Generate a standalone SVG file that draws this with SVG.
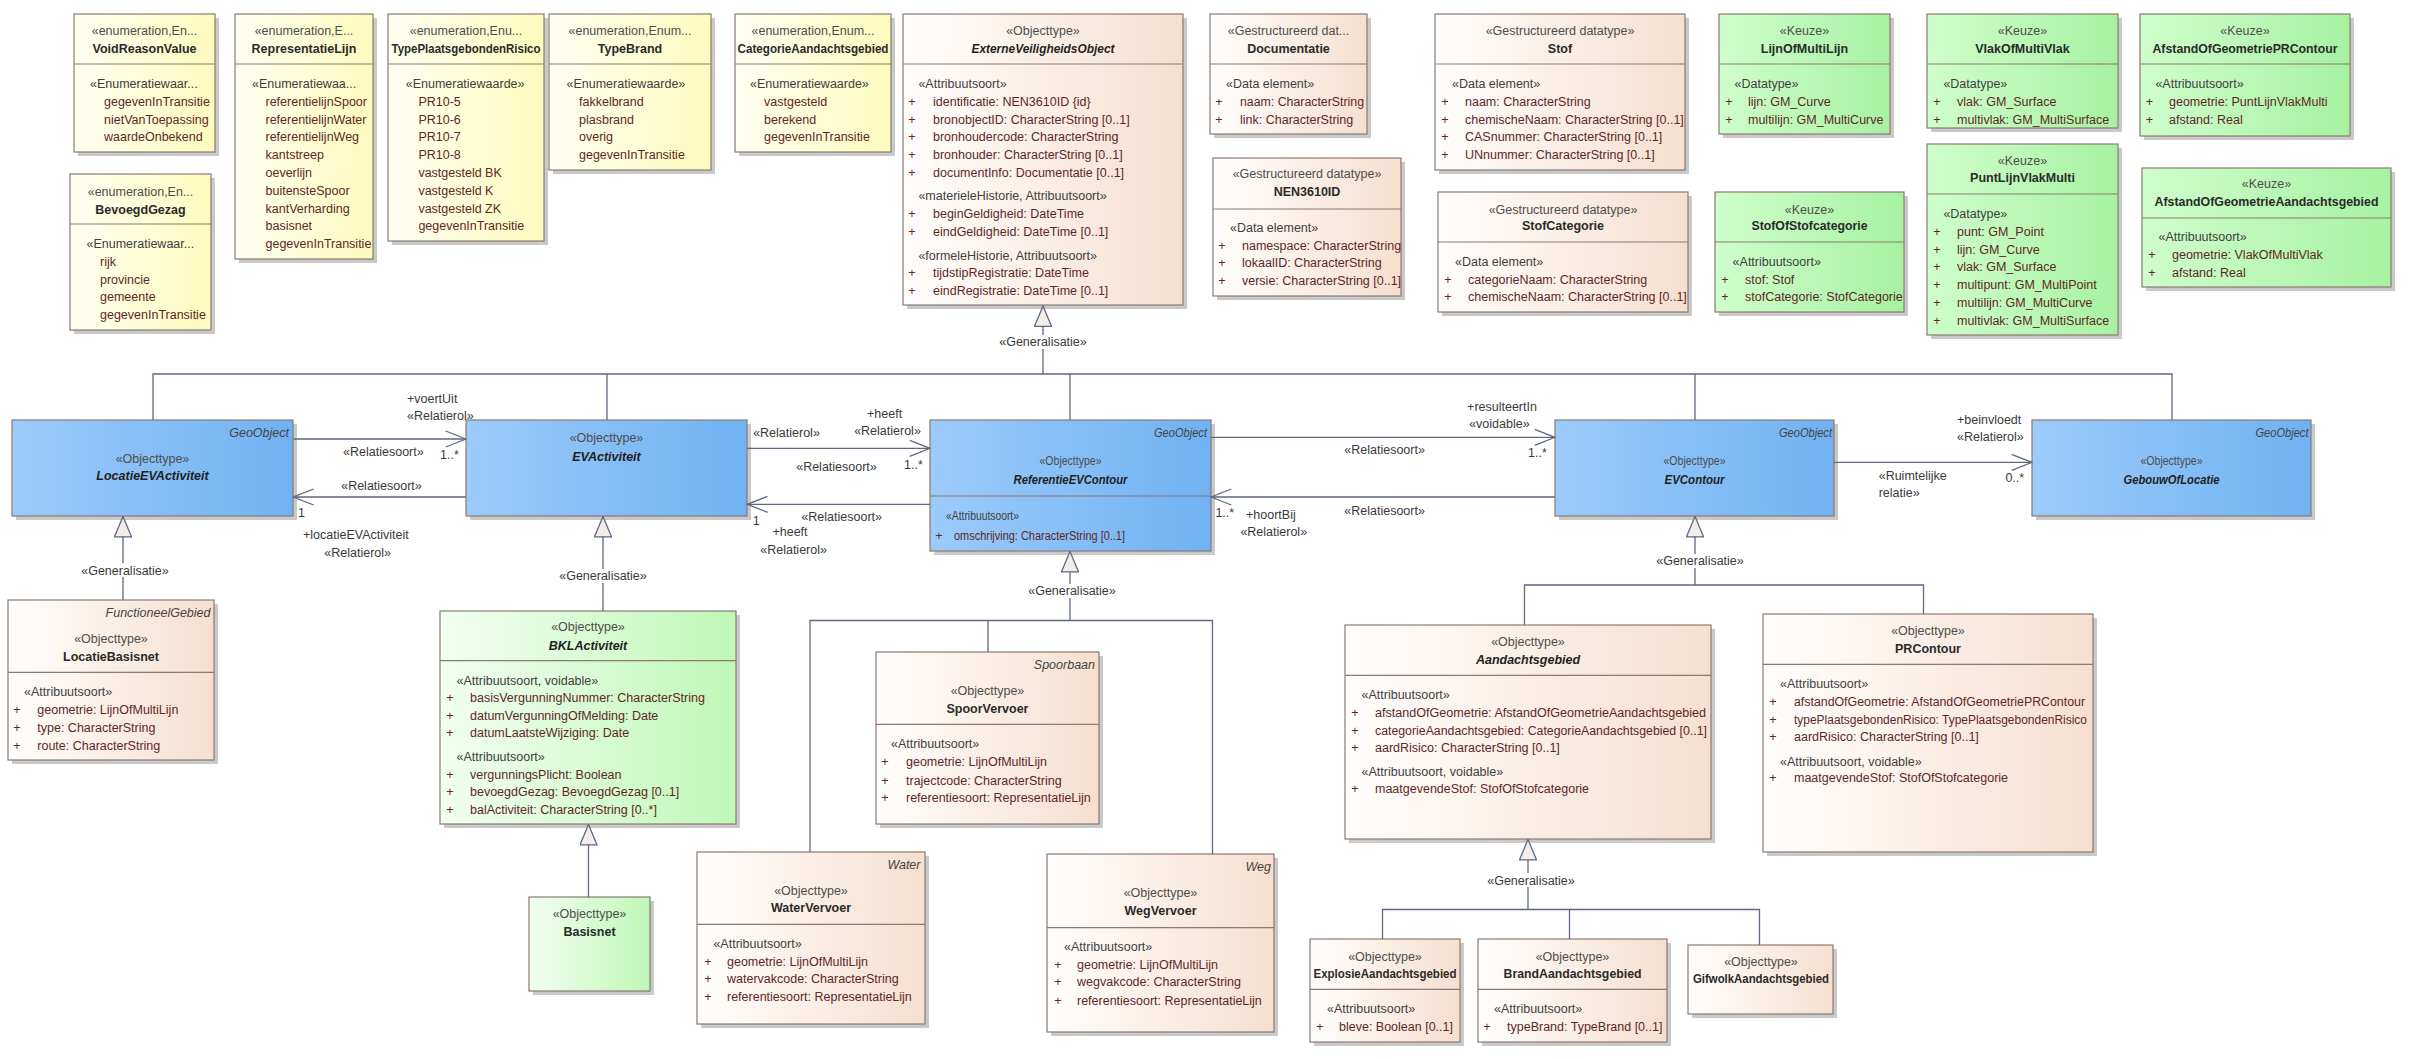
<svg xmlns="http://www.w3.org/2000/svg" width="2411" height="1059" viewBox="0 0 2411 1059">
<style>
text{font-family:"Liberation Sans",Arial,sans-serif;font-size:12.5px}
.st{fill:#4d4d4d;text-anchor:middle}
.nm{fill:#2a2a2a;font-weight:bold;text-anchor:middle}
.nmi{fill:#1f1f1f;font-weight:bold;font-style:italic;text-anchor:middle}
.sec{fill:#404040}
.at{fill:#5e2727}
.pl{fill:#5e2727;text-anchor:middle}
.geo{fill:#444;font-style:italic;text-anchor:end}
.lb{fill:#3a3a3a}
.lbm{fill:#3a3a3a;text-anchor:middle}
.sh{fill:#c9c9c9}
.bx{stroke:#8a7a72;stroke-width:1.2}
.dv{stroke:#8a7a72;stroke-width:1.2}
.en{fill:url(#gEn)}
.pe{fill:url(#gPe)}
.gr{fill:url(#gGr)}
.lg{fill:url(#gLg)}
.bl{fill:url(#gBl)}
.cn{fill:none;stroke:#5f6782;stroke-width:1.3}
.gen{marker-end:url(#tri)}
.asc{marker-end:url(#open)}
.wb{fill:#fff}
</style>
<defs>
<linearGradient id="gEn" x1="0" y1="0" x2="1" y2="0"><stop offset="0" stop-color="#fffff2"/><stop offset="1" stop-color="#fdfbbd"/></linearGradient>
<linearGradient id="gPe" x1="0" y1="0" x2="1" y2="0"><stop offset="0" stop-color="#fffefd"/><stop offset="1" stop-color="#f6dfcf"/></linearGradient>
<linearGradient id="gGr" x1="0" y1="0" x2="1" y2="0"><stop offset="0" stop-color="#cffecc"/><stop offset="1" stop-color="#a7f2a1"/></linearGradient>
<linearGradient id="gLg" x1="0" y1="0" x2="1" y2="0"><stop offset="0" stop-color="#f2fff0"/><stop offset="1" stop-color="#c0f7b8"/></linearGradient>
<linearGradient id="gBl" x1="0" y1="0" x2="1" y2="0"><stop offset="0" stop-color="#9ccbfa"/><stop offset="1" stop-color="#70b1f2"/></linearGradient>
<marker id="tri" markerUnits="userSpaceOnUse" viewBox="0 0 22 18" refX="21" refY="9" markerWidth="22" markerHeight="18" orient="auto"><path d="M0.7,0.5 L21,9 L0.7,17.5 Z" fill="#f4ece9" stroke="#5f6782" stroke-width="1.3"/></marker>
<marker id="open" markerUnits="userSpaceOnUse" viewBox="0 0 22 18" refX="21" refY="9" markerWidth="22" markerHeight="18" orient="auto"><path d="M0.7,1 L21,9 L0.7,17" fill="none" stroke="#5f6782" stroke-width="1.3"/></marker>
</defs>
<rect width="2411" height="1059" fill="#fff"/>

<g id="VoidReasonValue">
<rect class="sh" x="78" y="18" width="141" height="138"/>
<rect class="bx en" x="74" y="14" width="141" height="138"/>
<line class="dv" x1="74" y1="64" x2="215" y2="64"/>
<text class="st" x="144.5" y="35">«enumeration,En...</text>
<text class="nm" x="144.5" y="53">VoidReasonValue</text>
<text class="sec" x="90" y="88">«Enumeratiewaar...</text>
<text class="at" x="104" y="106">gegevenInTransitie</text>
<text class="at" x="104" y="124">nietVanToepassing</text>
<text class="at" x="104" y="141">waardeOnbekend</text>
</g>

<g id="BevoegdGezag">
<rect class="sh" x="74" y="178" width="141" height="156"/>
<rect class="bx en" x="70" y="174" width="141" height="156"/>
<line class="dv" x1="70" y1="224" x2="211" y2="224"/>
<text class="st" x="140.5" y="195.5">«enumeration,En...</text>
<text class="nm" x="140.5" y="213.5">BevoegdGezag</text>
<text class="sec" x="86.5" y="248">«Enumeratiewaar...</text>
<text class="at" x="100" y="266">rijk</text>
<text class="at" x="100" y="284">provincie</text>
<text class="at" x="100" y="301">gemeente</text>
<text class="at" x="100" y="319">gegevenInTransitie</text>
</g>

<g id="RepresentatieLijn">
<rect class="sh" x="239" y="18" width="138" height="245"/>
<rect class="bx en" x="235" y="14" width="138" height="245"/>
<line class="dv" x1="235" y1="64" x2="373" y2="64"/>
<text class="st" x="304" y="35">«enumeration,E...</text>
<text class="nm" x="304" y="53">RepresentatieLijn</text>
<text class="sec" x="252" y="88">«Enumeratiewaa...</text>
<text class="at" x="265.5" y="106">referentielijnSpoor</text>
<text class="at" x="265.5" y="124">referentielijnWater</text>
<text class="at" x="265.5" y="141">referentielijnWeg</text>
<text class="at" x="265.5" y="159">kantstreep</text>
<text class="at" x="265.5" y="177">oeverlijn</text>
<text class="at" x="265.5" y="195">buitensteSpoor</text>
<text class="at" x="265.5" y="213">kantVerharding</text>
<text class="at" x="265.5" y="230">basisnet</text>
<text class="at" x="265.5" y="248">gegevenInTransitie</text>
</g>

<g id="TypePlaatsgebondenRisico">
<rect class="sh" x="392" y="18" width="156" height="227"/>
<rect class="bx en" x="388" y="14" width="156" height="227"/>
<line class="dv" x1="388" y1="64" x2="544" y2="64"/>
<text class="st" x="466" y="35">«enumeration,Enu...</text>
<text class="nm" x="466" y="53" textLength="149" lengthAdjust="spacingAndGlyphs">TypePlaatsgebondenRisico</text>
<text class="sec" x="405.7" y="88">«Enumeratiewaarde»</text>
<text class="at" x="418.4" y="106">PR10-5</text>
<text class="at" x="418.4" y="124">PR10-6</text>
<text class="at" x="418.4" y="141">PR10-7</text>
<text class="at" x="418.4" y="159">PR10-8</text>
<text class="at" x="418.4" y="177">vastgesteld BK</text>
<text class="at" x="418.4" y="195">vastgesteld K</text>
<text class="at" x="418.4" y="213">vastgesteld ZK</text>
<text class="at" x="418.4" y="230">gegevenInTransitie</text>
</g>

<g id="TypeBrand">
<rect class="sh" x="553" y="18" width="162" height="156"/>
<rect class="bx en" x="549" y="14" width="162" height="156"/>
<line class="dv" x1="549" y1="64" x2="711" y2="64"/>
<text class="st" x="630" y="35">«enumeration,Enum...</text>
<text class="nm" x="630" y="53">TypeBrand</text>
<text class="sec" x="566.5" y="88">«Enumeratiewaarde»</text>
<text class="at" x="579" y="106">fakkelbrand</text>
<text class="at" x="579" y="124">plasbrand</text>
<text class="at" x="579" y="141">overig</text>
<text class="at" x="579" y="159">gegevenInTransitie</text>
</g>

<g id="CategorieAandachtsgebied">
<rect class="sh" x="739" y="18" width="156" height="138"/>
<rect class="bx en" x="735" y="14" width="156" height="138"/>
<line class="dv" x1="735" y1="64" x2="891" y2="64"/>
<text class="st" x="813" y="35">«enumeration,Enum...</text>
<text class="nm" x="813" y="53" textLength="151" lengthAdjust="spacingAndGlyphs">CategorieAandachtsgebied</text>
<text class="sec" x="750" y="88">«Enumeratiewaarde»</text>
<text class="at" x="764" y="106">vastgesteld</text>
<text class="at" x="764" y="124">berekend</text>
<text class="at" x="764" y="141">gegevenInTransitie</text>
</g>

<g id="ExterneVeiligheidsObject">
<rect class="sh" x="907" y="18" width="280" height="291"/>
<rect class="bx pe" x="903" y="14" width="280" height="291"/>
<line class="dv" x1="903" y1="64" x2="1183" y2="64"/>
<text class="st" x="1043" y="35">«Objecttype»</text>
<text class="nmi" x="1043" y="53" textLength="143" lengthAdjust="spacingAndGlyphs">ExterneVeiligheidsObject</text>
<text class="sec" x="918.4" y="88">«Attribuutsoort»</text>
<text class="pl" x="912" y="106">+</text><text class="at" x="933" y="106">identificatie: NEN3610ID {id}</text>
<text class="pl" x="912" y="124">+</text><text class="at" x="933" y="124">bronobjectID: CharacterString [0..1]</text>
<text class="pl" x="912" y="141">+</text><text class="at" x="933" y="141">bronhoudercode: CharacterString</text>
<text class="pl" x="912" y="159">+</text><text class="at" x="933" y="159">bronhouder: CharacterString [0..1]</text>
<text class="pl" x="912" y="177">+</text><text class="at" x="933" y="177">documentInfo: Documentatie [0..1]</text>
<text class="sec" x="918.4" y="200">«materieleHistorie, Attribuutsoort»</text>
<text class="pl" x="912" y="218">+</text><text class="at" x="933" y="218">beginGeldigheid: DateTime</text>
<text class="pl" x="912" y="235.5">+</text><text class="at" x="933" y="235.5">eindGeldigheid: DateTime [0..1]</text>
<text class="sec" x="918.4" y="259.5">«formeleHistorie, Attribuutsoort»</text>
<text class="pl" x="912" y="277">+</text><text class="at" x="933" y="277">tijdstipRegistratie: DateTime</text>
<text class="pl" x="912" y="295">+</text><text class="at" x="933" y="295">eindRegistratie: DateTime [0..1]</text>
</g>

<g id="Documentatie">
<rect class="sh" x="1214" y="18" width="157" height="120"/>
<rect class="bx pe" x="1210" y="14" width="157" height="120"/>
<line class="dv" x1="1210" y1="64" x2="1367" y2="64"/>
<text class="st" x="1288.5" y="35">«Gestructureerd dat...</text>
<text class="nm" x="1288.5" y="53">Documentatie</text>
<text class="sec" x="1226" y="88">«Data element»</text>
<text class="pl" x="1219" y="106">+</text><text class="at" x="1240" y="106" textLength="124" lengthAdjust="spacingAndGlyphs">naam: CharacterString</text>
<text class="pl" x="1219" y="124">+</text><text class="at" x="1240" y="124">link: CharacterString</text>
</g>

<g id="NEN3610ID">
<rect class="sh" x="1217" y="162" width="188" height="138"/>
<rect class="bx pe" x="1213" y="158" width="188" height="138"/>
<line class="dv" x1="1213" y1="209" x2="1401" y2="209"/>
<text class="st" x="1307" y="178">«Gestructureerd datatype»</text>
<text class="nm" x="1307" y="196">NEN3610ID</text>
<text class="sec" x="1230" y="232">«Data element»</text>
<text class="pl" x="1222" y="249.5">+</text><text class="at" x="1242" y="249.5">namespace: CharacterString</text>
<text class="pl" x="1222" y="267">+</text><text class="at" x="1242" y="267">lokaalID: CharacterString</text>
<text class="pl" x="1222" y="284.5">+</text><text class="at" x="1242" y="284.5">versie: CharacterString [0..1]</text>
</g>

<g id="Stof">
<rect class="sh" x="1439" y="18" width="250" height="156"/>
<rect class="bx pe" x="1435" y="14" width="250" height="156"/>
<line class="dv" x1="1435" y1="64" x2="1685" y2="64"/>
<text class="st" x="1560" y="35">«Gestructureerd datatype»</text>
<text class="nm" x="1560" y="53">Stof</text>
<text class="sec" x="1452" y="88">«Data element»</text>
<text class="pl" x="1445" y="106">+</text><text class="at" x="1465" y="106">naam: CharacterString</text>
<text class="pl" x="1445" y="124">+</text><text class="at" x="1465" y="124">chemischeNaam: CharacterString [0..1]</text>
<text class="pl" x="1445" y="141">+</text><text class="at" x="1465" y="141">CASnummer: CharacterString [0..1]</text>
<text class="pl" x="1445" y="159">+</text><text class="at" x="1465" y="159">UNnummer: CharacterString [0..1]</text>
</g>

<g id="StofCategorie">
<rect class="sh" x="1442" y="196" width="250" height="120"/>
<rect class="bx pe" x="1438" y="192" width="250" height="120"/>
<line class="dv" x1="1438" y1="242" x2="1688" y2="242"/>
<text class="st" x="1563" y="213.5">«Gestructureerd datatype»</text>
<text class="nm" x="1563" y="230">StofCategorie</text>
<text class="sec" x="1455" y="266">«Data element»</text>
<text class="pl" x="1448" y="284">+</text><text class="at" x="1468" y="284">categorieNaam: CharacterString</text>
<text class="pl" x="1448" y="301">+</text><text class="at" x="1468" y="301">chemischeNaam: CharacterString [0..1]</text>
</g>

<g id="LijnOfMultiLijn">
<rect class="sh" x="1723" y="18" width="171" height="120"/>
<rect class="bx gr" x="1719" y="14" width="171" height="120"/>
<line class="dv" x1="1719" y1="64" x2="1890" y2="64"/>
<text class="st" x="1804.5" y="35">«Keuze»</text>
<text class="nm" x="1804.5" y="53">LijnOfMultiLijn</text>
<text class="sec" x="1734.6" y="88">«Datatype»</text>
<text class="pl" x="1729" y="106">+</text><text class="at" x="1748" y="106">lijn: GM_Curve</text>
<text class="pl" x="1729" y="124">+</text><text class="at" x="1748" y="124">multilijn: GM_MultiCurve</text>
</g>

<g id="StofOfStofcategorie">
<rect class="sh" x="1719" y="196" width="189" height="120"/>
<rect class="bx gr" x="1715" y="192" width="189" height="120"/>
<line class="dv" x1="1715" y1="242" x2="1904" y2="242"/>
<text class="st" x="1809.5" y="213.5">«Keuze»</text>
<text class="nm" x="1809.5" y="230" textLength="116" lengthAdjust="spacingAndGlyphs">StofOfStofcategorie</text>
<text class="sec" x="1732.6" y="266">«Attribuutsoort»</text>
<text class="pl" x="1725" y="284">+</text><text class="at" x="1745" y="284">stof: Stof</text>
<text class="pl" x="1725" y="301">+</text><text class="at" x="1745" y="301">stofCategorie: StofCategorie</text>
</g>

<g id="VlakOfMultiVlak">
<rect class="sh" x="1931" y="18" width="191" height="114"/>
<rect class="bx gr" x="1927" y="14" width="191" height="114"/>
<line class="dv" x1="1927" y1="64" x2="2118" y2="64"/>
<text class="st" x="2022.5" y="35">«Keuze»</text>
<text class="nm" x="2022.5" y="53">VlakOfMultiVlak</text>
<text class="sec" x="1943.4" y="88">«Datatype»</text>
<text class="pl" x="1937" y="106">+</text><text class="at" x="1957" y="106">vlak: GM_Surface</text>
<text class="pl" x="1937" y="124">+</text><text class="at" x="1957" y="124">multivlak: GM_MultiSurface</text>
</g>

<g id="PuntLijnVlakMulti">
<rect class="sh" x="1931" y="148" width="191" height="191"/>
<rect class="bx gr" x="1927" y="144" width="191" height="191"/>
<line class="dv" x1="1927" y1="194" x2="2118" y2="194"/>
<text class="st" x="2022.5" y="165">«Keuze»</text>
<text class="nm" x="2022.5" y="182">PuntLijnVlakMulti</text>
<text class="sec" x="1943.4" y="218">«Datatype»</text>
<text class="pl" x="1937" y="236">+</text><text class="at" x="1957" y="236">punt: GM_Point</text>
<text class="pl" x="1937" y="254">+</text><text class="at" x="1957" y="254">lijn: GM_Curve</text>
<text class="pl" x="1937" y="271">+</text><text class="at" x="1957" y="271">vlak: GM_Surface</text>
<text class="pl" x="1937" y="289">+</text><text class="at" x="1957" y="289">multipunt: GM_MultiPoint</text>
<text class="pl" x="1937" y="307">+</text><text class="at" x="1957" y="307">multilijn: GM_MultiCurve</text>
<text class="pl" x="1937" y="325">+</text><text class="at" x="1957" y="325">multivlak: GM_MultiSurface</text>
</g>

<g id="AfstandOfGeometriePRContour">
<rect class="sh" x="2144" y="18" width="210" height="122"/>
<rect class="bx gr" x="2140" y="14" width="210" height="122"/>
<line class="dv" x1="2140" y1="64" x2="2350" y2="64"/>
<text class="st" x="2245" y="35">«Keuze»</text>
<text class="nm" x="2245" y="53" textLength="185" lengthAdjust="spacingAndGlyphs">AfstandOfGeometriePRContour</text>
<text class="sec" x="2155.4" y="88">«Attribuutsoort»</text>
<text class="pl" x="2149.5" y="106">+</text><text class="at" x="2169" y="106">geometrie: PuntLijnVlakMulti</text>
<text class="pl" x="2149.5" y="124">+</text><text class="at" x="2169" y="124">afstand: Real</text>
</g>

<g id="AfstandOfGeometrieAandachtsgebied">
<rect class="sh" x="2146" y="172" width="249" height="119"/>
<rect class="bx gr" x="2142" y="168" width="249" height="119"/>
<line class="dv" x1="2142" y1="218" x2="2391" y2="218"/>
<text class="st" x="2266.5" y="188">«Keuze»</text>
<text class="nm" x="2266.5" y="205.5" textLength="224" lengthAdjust="spacingAndGlyphs">AfstandOfGeometrieAandachtsgebied</text>
<text class="sec" x="2158.5" y="241">«Attribuutsoort»</text>
<text class="pl" x="2152" y="259">+</text><text class="at" x="2172" y="259">geometrie: VlakOfMultiVlak</text>
<text class="pl" x="2152" y="277">+</text><text class="at" x="2172" y="277">afstand: Real</text>
</g>

<g id="LocatieEVActiviteit">
<rect class="sh" x="16" y="424" width="281" height="96"/>
<rect class="bx bl" x="12" y="420" width="281" height="96"/>
<text class="geo" x="289" y="437">GeoObject</text>
<text class="st" x="152.5" y="463">«Objecttype»</text>
<text class="nmi" x="152.5" y="480">LocatieEVActiviteit</text>
</g>

<g id="LocatieBasisnet">
<rect class="sh" x="12" y="604" width="206" height="160"/>
<rect class="bx pe" x="8" y="600" width="206" height="160"/>
<line class="dv" x1="8" y1="672.3" x2="214" y2="672.3"/>
<text class="geo" x="210.5" y="617">FunctioneelGebied</text>
<text class="st" x="111" y="643">«Objecttype»</text>
<text class="nm" x="111" y="660.5">LocatieBasisnet</text>
<text class="sec" x="24" y="696">«Attribuutsoort»</text>
<text class="pl" x="17" y="714">+</text><text class="at" x="37.3" y="714">geometrie: LijnOfMultiLijn</text>
<text class="pl" x="17" y="732">+</text><text class="at" x="37.3" y="732">type: CharacterString</text>
<text class="pl" x="17" y="750">+</text><text class="at" x="37.3" y="750">route: CharacterString</text>
</g>

<g id="EVActiviteit">
<rect class="sh" x="470" y="424" width="281" height="96"/>
<rect class="bx bl" x="466" y="420" width="281" height="96"/>
<text class="st" x="606.5" y="442">«Objecttype»</text>
<text class="nmi" x="606.5" y="460.5">EVActiviteit</text>
</g>

<g id="BKLActiviteit">
<rect class="sh" x="444" y="615" width="296" height="213"/>
<rect class="bx lg" x="440" y="611" width="296" height="213"/>
<line class="dv" x1="440" y1="660.7" x2="736" y2="660.7"/>
<text class="st" x="588" y="631">«Objecttype»</text>
<text class="nmi" x="588" y="649.5">BKLActiviteit</text>
<text class="sec" x="456.5" y="684.5">«Attribuutsoort, voidable»</text>
<text class="pl" x="450" y="702">+</text><text class="at" x="470" y="702">basisVergunningNummer: CharacterString</text>
<text class="pl" x="450" y="719.5">+</text><text class="at" x="470" y="719.5">datumVergunningOfMelding: Date</text>
<text class="pl" x="450" y="737">+</text><text class="at" x="470" y="737">datumLaatsteWijziging: Date</text>
<text class="sec" x="456.5" y="761">«Attribuutsoort»</text>
<text class="pl" x="450" y="778.5">+</text><text class="at" x="470" y="778.5">vergunningsPlicht: Boolean</text>
<text class="pl" x="450" y="796">+</text><text class="at" x="470" y="796">bevoegdGezag: BevoegdGezag [0..1]</text>
<text class="pl" x="450" y="814">+</text><text class="at" x="470" y="814">balActiviteit: CharacterString [0..*]</text>
</g>

<g id="Basisnet">
<rect class="sh" x="533" y="901" width="121" height="94"/>
<rect class="bx lg" x="529" y="897" width="121" height="94"/>
<text class="st" x="589.5" y="918">«Objecttype»</text>
<text class="nm" x="589.5" y="935.5">Basisnet</text>
</g>

<g id="ReferentieEVContour">
<rect class="sh" x="934" y="424" width="281" height="131"/>
<rect class="bx bl" x="930" y="420" width="281" height="131"/>
<line class="dv" x1="930" y1="496" x2="1211" y2="496"/>
<text class="geo" x="1207" y="437" textLength="53" lengthAdjust="spacingAndGlyphs">GeoObject</text>
<text class="st" x="1070.5" y="464.5" textLength="62" lengthAdjust="spacingAndGlyphs">«Objecttype»</text>
<text class="nmi" x="1070.5" y="483.5" textLength="114" lengthAdjust="spacingAndGlyphs">ReferentieEVContour</text>
<text class="sec" x="946" y="520" textLength="73" lengthAdjust="spacingAndGlyphs">«Attribuutsoort»</text>
<text class="pl" x="939" y="539.5">+</text><text class="at" x="954" y="539.5" textLength="171" lengthAdjust="spacingAndGlyphs">omschrijving: CharacterString [0..1]</text>
</g>

<g id="SpoorVervoer">
<rect class="sh" x="880" y="656" width="223" height="172"/>
<rect class="bx pe" x="876" y="652" width="223" height="172"/>
<line class="dv" x1="876" y1="724.3" x2="1099" y2="724.3"/>
<text class="geo" x="1095" y="669">Spoorbaan</text>
<text class="st" x="987.5" y="695">«Objecttype»</text>
<text class="nm" x="987.5" y="713">SpoorVervoer</text>
<text class="sec" x="891" y="748">«Attribuutsoort»</text>
<text class="pl" x="885" y="766">+</text><text class="at" x="906" y="766">geometrie: LijnOfMultiLijn</text>
<text class="pl" x="885" y="784.5">+</text><text class="at" x="906" y="784.5">trajectcode: CharacterString</text>
<text class="pl" x="885" y="802">+</text><text class="at" x="906" y="802">referentiesoort: RepresentatieLijn</text>
</g>

<g id="WaterVervoer">
<rect class="sh" x="701" y="856" width="228" height="172"/>
<rect class="bx pe" x="697" y="852" width="228" height="172"/>
<line class="dv" x1="697" y1="924.3" x2="925" y2="924.3"/>
<text class="geo" x="920.5" y="869">Water</text>
<text class="st" x="811" y="895">«Objecttype»</text>
<text class="nm" x="811" y="912">WaterVervoer</text>
<text class="sec" x="713.4" y="948">«Attribuutsoort»</text>
<text class="pl" x="708" y="966">+</text><text class="at" x="727" y="966">geometrie: LijnOfMultiLijn</text>
<text class="pl" x="708" y="983">+</text><text class="at" x="727" y="983">watervakcode: CharacterString</text>
<text class="pl" x="708" y="1001">+</text><text class="at" x="727" y="1001">referentiesoort: RepresentatieLijn</text>
</g>

<g id="WegVervoer">
<rect class="sh" x="1051" y="858" width="227" height="178"/>
<rect class="bx pe" x="1047" y="854" width="227" height="178"/>
<line class="dv" x1="1047" y1="927.7" x2="1274" y2="927.7"/>
<text class="geo" x="1271" y="871">Weg</text>
<text class="st" x="1160.5" y="897">«Objecttype»</text>
<text class="nm" x="1160.5" y="915">WegVervoer</text>
<text class="sec" x="1064" y="951">«Attribuutsoort»</text>
<text class="pl" x="1058" y="968.5">+</text><text class="at" x="1077" y="968.5">geometrie: LijnOfMultiLijn</text>
<text class="pl" x="1058" y="986">+</text><text class="at" x="1077" y="986">wegvakcode: CharacterString</text>
<text class="pl" x="1058" y="1004.5">+</text><text class="at" x="1077" y="1004.5">referentiesoort: RepresentatieLijn</text>
</g>

<g id="EVContour">
<rect class="sh" x="1559" y="424" width="279" height="96"/>
<rect class="bx bl" x="1555" y="420" width="279" height="96"/>
<text class="geo" x="1832" y="437" textLength="53" lengthAdjust="spacingAndGlyphs">GeoObject</text>
<text class="st" x="1694.5" y="464.5" textLength="62" lengthAdjust="spacingAndGlyphs">«Objecttype»</text>
<text class="nmi" x="1694.5" y="483.5" textLength="60" lengthAdjust="spacingAndGlyphs">EVContour</text>
</g>

<g id="Aandachtsgebied">
<rect class="sh" x="1349" y="629" width="366" height="214"/>
<rect class="bx pe" x="1345" y="625" width="366" height="214"/>
<line class="dv" x1="1345" y1="675.3" x2="1711" y2="675.3"/>
<text class="st" x="1528" y="646">«Objecttype»</text>
<text class="nmi" x="1528" y="664">Aandachtsgebied</text>
<text class="sec" x="1361.5" y="699">«Attribuutsoort»</text>
<text class="pl" x="1355" y="717">+</text><text class="at" x="1375" y="717" textLength="331" lengthAdjust="spacingAndGlyphs">afstandOfGeometrie: AfstandOfGeometrieAandachtsgebied</text>
<text class="pl" x="1355" y="735">+</text><text class="at" x="1375" y="735" textLength="332" lengthAdjust="spacingAndGlyphs">categorieAandachtsgebied: CategorieAandachtsgebied [0..1]</text>
<text class="pl" x="1355" y="752">+</text><text class="at" x="1375" y="752">aardRisico: CharacterString [0..1]</text>
<text class="sec" x="1361.5" y="775.5">«Attribuutsoort, voidable»</text>
<text class="pl" x="1355" y="793">+</text><text class="at" x="1375" y="793">maatgevendeStof: StofOfStofcategorie</text>
</g>

<g id="PRContour">
<rect class="sh" x="1767" y="618" width="330" height="238"/>
<rect class="bx pe" x="1763" y="614" width="330" height="238"/>
<line class="dv" x1="1763" y1="664.3" x2="2093" y2="664.3"/>
<text class="st" x="1928" y="635">«Objecttype»</text>
<text class="nm" x="1928" y="653">PRContour</text>
<text class="sec" x="1780" y="688">«Attribuutsoort»</text>
<text class="pl" x="1773" y="706">+</text><text class="at" x="1794" y="706" textLength="291" lengthAdjust="spacingAndGlyphs">afstandOfGeometrie: AfstandOfGeometriePRContour</text>
<text class="pl" x="1773" y="724">+</text><text class="at" x="1794" y="724" textLength="293" lengthAdjust="spacingAndGlyphs">typePlaatsgebondenRisico: TypePlaatsgebondenRisico</text>
<text class="pl" x="1773" y="741">+</text><text class="at" x="1794" y="741">aardRisico: CharacterString [0..1]</text>
<text class="sec" x="1780" y="765.5">«Attribuutsoort, voidable»</text>
<text class="pl" x="1773" y="782">+</text><text class="at" x="1794" y="782">maatgevendeStof: StofOfStofcategorie</text>
</g>

<g id="GebouwOfLocatie">
<rect class="sh" x="2036" y="424" width="279" height="96"/>
<rect class="bx bl" x="2032" y="420" width="279" height="96"/>
<text class="geo" x="2308.5" y="437" textLength="53" lengthAdjust="spacingAndGlyphs">GeoObject</text>
<text class="st" x="2171.5" y="464.5" textLength="62" lengthAdjust="spacingAndGlyphs">«Objecttype»</text>
<text class="nmi" x="2171.5" y="483.5" textLength="96" lengthAdjust="spacingAndGlyphs">GebouwOfLocatie</text>
</g>

<g id="ExplosieAandachtsgebied">
<rect class="sh" x="1314" y="943" width="150" height="103"/>
<rect class="bx pe" x="1310" y="939" width="150" height="103"/>
<line class="dv" x1="1310" y1="989.3" x2="1460" y2="989.3"/>
<text class="st" x="1385" y="960.5">«Objecttype»</text>
<text class="nm" x="1385" y="978" textLength="143" lengthAdjust="spacingAndGlyphs">ExplosieAandachtsgebied</text>
<text class="sec" x="1327" y="1013">«Attribuutsoort»</text>
<text class="pl" x="1320" y="1030.5">+</text><text class="at" x="1339" y="1030.5">bleve: Boolean [0..1]</text>
</g>

<g id="BrandAandachtsgebied">
<rect class="sh" x="1482" y="943" width="189" height="103"/>
<rect class="bx pe" x="1478" y="939" width="189" height="103"/>
<line class="dv" x1="1478" y1="989.3" x2="1667" y2="989.3"/>
<text class="st" x="1572.5" y="960.5">«Objecttype»</text>
<text class="nm" x="1572.5" y="978" textLength="138" lengthAdjust="spacingAndGlyphs">BrandAandachtsgebied</text>
<text class="sec" x="1494" y="1013">«Attribuutsoort»</text>
<text class="pl" x="1487" y="1030.5">+</text><text class="at" x="1507" y="1030.5">typeBrand: TypeBrand [0..1]</text>
</g>

<g id="GifwolkAandachtsgebied">
<rect class="sh" x="1692" y="949" width="145" height="69"/>
<rect class="bx pe" x="1688" y="945" width="145" height="69"/>
<text class="st" x="1761" y="966">«Objecttype»</text>
<text class="nm" x="1761" y="983" textLength="136" lengthAdjust="spacingAndGlyphs">GifwolkAandachtsgebied</text>
</g>

<g id="connectors">
<path class="cn" d="M153,420 V374 H2172 V420"/>
<path class="cn" d="M607,420 V374"/>
<path class="cn" d="M1070,420 V374"/>
<path class="cn" d="M1695,420 V374"/>
<path class="cn gen" d="M1043,374 V306"/>
<rect class="wb" x="998" y="335" width="90" height="14"/>
<text class="lbm" x="1043" y="346">«Generalisatie»</text>

<path class="cn gen" d="M123,600 V516.5"/>
<rect class="wb" x="80" y="563" width="90" height="14"/>
<text class="lbm" x="125" y="574.5">«Generalisatie»</text>

<path class="cn gen" d="M603,611 V516.5"/>
<rect class="wb" x="558" y="569" width="90" height="14"/>
<text class="lbm" x="603" y="580">«Generalisatie»</text>

<path class="cn gen" d="M588.5,897 V824.5"/>

<path class="cn" d="M810,852 V620.5 H1212.5 V854"/>
<path class="cn" d="M988,652 V620.5"/>
<path class="cn gen" d="M1070,620.5 V551.5"/>
<rect class="wb" x="1027" y="584" width="90" height="14"/>
<text class="lbm" x="1072" y="595">«Generalisatie»</text>

<path class="cn" d="M1524.5,625 V585 H1923.5 V614"/>
<path class="cn gen" d="M1695,585 V516.5"/>
<rect class="wb" x="1655" y="554" width="90" height="14"/>
<text class="lbm" x="1700" y="565">«Generalisatie»</text>

<path class="cn" d="M1382.5,939 V909.5 H1759.5 V945"/>
<path class="cn" d="M1569.5,939 V909.5"/>
<path class="cn gen" d="M1528,909.5 V839.5"/>
<rect class="wb" x="1486" y="873" width="90" height="14"/>
<text class="lbm" x="1531" y="884.5">«Generalisatie»</text>

<path class="cn asc" d="M293.4,439 H466"/>
<text class="lb" x="407" y="403">+voertUit</text>
<text class="lb" x="407" y="420">«Relatierol»</text>
<text class="lbm" x="383.4" y="456">«Relatiesoort»</text>
<text class="lb" x="440" y="459">1..*</text>

<path class="cn asc" d="M466,497 H293.4"/>
<text class="lbm" x="381.5" y="490">«Relatiesoort»</text>
<text class="lb" x="298" y="517">1</text>
<text class="lb" x="303" y="539">+locatieEVActiviteit</text>
<text class="lbm" x="357.7" y="557">«Relatierol»</text>

<path class="cn asc" d="M747.3,448.3 H930"/>
<text class="lbm" x="786.5" y="437">«Relatierol»</text>
<text class="lbm" x="884.6" y="418">+heeft</text>
<text class="lbm" x="887.5" y="435">«Relatierol»</text>
<text class="lbm" x="836.5" y="471">«Relatiesoort»</text>
<text class="lb" x="904" y="468.5">1..*</text>

<path class="cn asc" d="M930,504.3 H747.3"/>
<text class="lb" x="752.7" y="524.5">1</text>
<text class="lbm" x="841.7" y="521">«Relatiesoort»</text>
<text class="lbm" x="790" y="535.5">+heeft</text>
<text class="lbm" x="793.6" y="553.5">«Relatierol»</text>

<path class="cn asc" d="M1211,437.3 H1555"/>
<text class="lbm" x="1502" y="411">+resulteertIn</text>
<text class="lbm" x="1499.4" y="428">«voidable»</text>
<text class="lbm" x="1384.6" y="454">«Relatiesoort»</text>
<text class="lb" x="1528" y="457">1..*</text>

<path class="cn asc" d="M1555,497 H1211"/>
<text class="lb" x="1215.4" y="517">1..*</text>
<text class="lb" x="1246" y="519">+hoortBij</text>
<text class="lb" x="1240.4" y="536">«Relatierol»</text>
<text class="lbm" x="1384.6" y="515">«Relatiesoort»</text>

<path class="cn asc" d="M1834.3,462.3 H2032"/>
<text class="lb" x="1957" y="423.5">+beinvloedt</text>
<text class="lb" x="1957" y="441">«Relatierol»</text>
<text class="lb" x="1878.7" y="479.5">«Ruimtelijke</text>
<text class="lb" x="1878.7" y="497">relatie»</text>
<text class="lb" x="2005.4" y="482">0..*</text>
</g>
</svg>
